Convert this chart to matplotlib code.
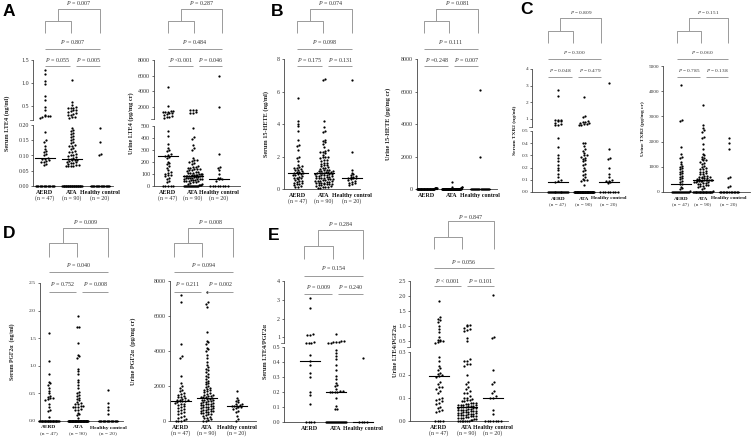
import numpy as np
import matplotlib
matplotlib.use("Agg")
import matplotlib.pyplot as plt

# ---------------- data ----------------
groups = ["AERD", "ATA", "Healthy control"]
n_labels = ["(n = 47)", "(n = 90)", "(n = 20)"]

# A: LTE4
LTE4_serum_AERD = [1.28, 1.2, 1.05, 0.97, 0.72, 0.63, 0.48, 0.42, 0.30, 0.29, 0.28, 0.28, 0.27, 0.24,
                   0.176, 0.15, 0.145, 0.13, 0.12, 0.115, 0.11, 0.105, 0.10, 0.092, 0.09,
                   0.088, 0.085, 0.082, 0.08, 0.078, 0.072, 0.068] + [0] * 15
LTE4_serum_ATA = [1.07, 0.58, 0.52, 0.48, 0.47, 0.46, 0.45, 0.42, 0.41, 0.40, 0.38, 0.35, 0.32, 0.31,
                  0.30, 0.27, 0.26, 0.24,
                  0.19, 0.185, 0.18, 0.175, 0.17, 0.165, 0.16, 0.155, 0.15, 0.145, 0.14, 0.135, 0.13,
                  0.13, 0.125, 0.12, 0.115, 0.11, 0.11, 0.105, 0.10, 0.10, 0.098, 0.095, 0.092, 0.09, 0.088,
                  0.086, 0.085, 0.084, 0.082, 0.08, 0.078, 0.076, 0.075, 0.072, 0.07, 0.068, 0.067,
                  0.066, 0.065, 0.064] + [0] * 30
LTE4_serum_HC = [0.19, 0.145, 0.105, 0.10] + [0] * 16

LTE4_urine_AERD = [4600, 2100, 1550, 1500, 1450, 1400, 1350, 1300, 1200, 1100, 1000, 900, 800, 700, 600,
                   460, 420, 350, 320, 300, 290, 270, 260, 250,
                   240, 230, 200, 190, 180, 170, 150, 130, 120, 110, 100, 95, 90, 80, 70, 60, 40, 30] + [0] * 5
LTE4_urine_ATA = [1700, 1650, 1600, 1450, 1300, 1200,
                  480, 410, 390, 340, 320, 300, 230, 220, 215, 210, 200, 190, 180, 170, 160, 155, 150, 150,
                  145, 140, 140, 135, 130, 125, 120, 115, 110, 110, 105, 100, 100, 98, 95, 92, 90, 88, 87,
                  86, 86,
                  84, 82, 80, 80, 78, 75, 72, 70, 70, 68, 65, 62, 60, 58, 55, 52, 50, 48, 45, 42, 40, 38,
                  35, 30, 25, 20, 15, 10, 8, 5, 3, 2] + [0] * 13
LTE4_urine_HC = [6000, 2000, 270, 160, 150, 130, 100, 70, 65, 60, 58, 40] + [0] * 8

# B: 15-HETE
HETE_serum_AERD = [5.6, 4.2, 4.0, 3.85, 3.6, 3.0, 2.7, 2.65, 2.4, 2.0, 1.9, 1.7, 1.45, 1.4, 1.35, 1.3,
                   1.3, 1.25, 1.2, 1.15, 1.1, 1.05, 1.02, 1.0,
                   0.98, 0.95, 0.9, 0.88, 0.85, 0.8, 0.75, 0.7, 0.7, 0.65, 0.6, 0.55, 0.5, 0.5, 0.45,
                   0.4, 0.35, 0.3, 0.3, 0.25, 0.2, 0.15, 0.1]
HETE_serum_ATA = [6.8, 6.7, 4.2, 3.8, 3.6, 3.5, 3.0, 2.95, 2.9, 2.8, 2.6, 2.4, 2.35, 2.3, 2.3, 2.2, 2.1,
                  2.0, 2.0, 1.95, 1.9, 1.8, 1.8, 1.7, 1.6, 1.6, 1.55, 1.5, 1.45, 1.4, 1.35, 1.3, 1.3, 1.25,
                  1.2, 1.2, 1.15, 1.1, 1.1, 1.08, 1.05, 1.03, 1.02, 1.01, 1.0,
                  0.98, 0.96, 0.95, 0.92, 0.9, 0.88, 0.86, 0.85, 0.82, 0.8, 0.78, 0.75, 0.72, 0.7, 0.7,
                  0.68, 0.65, 0.62, 0.6, 0.6, 0.58, 0.55, 0.52, 0.5, 0.5, 0.48, 0.45, 0.42, 0.4, 0.4,
                  0.38, 0.35, 0.32, 0.3, 0.3, 0.28, 0.25, 0.22, 0.2, 0.18, 0.15, 0.12, 0.1, 0.08, 0.05]
HETE_serum_HC = [6.7, 2.3, 1.15, 1.0, 0.9, 0.85, 0.8, 0.75, 0.72, 0.7, 0.68, 0.65, 0.6, 0.55, 0.5,
                 0.45, 0.4, 0.35, 0.3, 0.25]

HETE_urine_AERD = [70, 60, 50, 45, 40, 35, 30, 25, 20, 15, 10, 5] + [0] * 35
HETE_urine_ATA = [420, 150, 120, 100, 80, 60, 50, 40, 30, 20] + [0] * 80
HETE_urine_HC = [6100, 1950] + [0] * 18

# C: TXB2
TXB2_serum_AERD = [2.75, 2.35, 0.95, 0.92, 0.9, 0.88, 0.85, 0.75, 0.7, 0.65, 0.6,
                   0.44, 0.37, 0.3, 0.28, 0.25, 0.22, 0.2, 0.18, 0.15, 0.12, 0.1, 0.09, 0.085] + [0] * 23
TXB2_serum_ATA = [2.3, 1.15, 1.1, 0.85, 0.8, 0.78, 0.75, 0.72, 0.7, 0.68, 0.65, 0.6,
                  0.4, 0.4, 0.38, 0.35, 0.34, 0.32, 0.3, 0.3, 0.29, 0.28, 0.27, 0.26, 0.25, 0.23, 0.22,
                  0.2, 0.18, 0.17, 0.15, 0.14, 0.12, 0.11, 0.1, 0.1, 0.09, 0.06] + [0] * 52
TXB2_serum_HC = [3.15, 0.35, 0.28, 0.27, 0.2, 0.15, 0.12, 0.1, 0.09, 0.09, 0.08, 0.07] + [0] * 8

TXB2_urine_AERD = [4250, 2850, 2800, 1800, 1500, 1400, 1350, 1200, 1100, 1050, 1000, 950, 900, 850,
                   800, 750, 700, 650, 600, 550, 500, 450, 400, 320,
                   300, 200, 150, 100, 50] + [0] * 18
TXB2_urine_ATA = [3450, 2650, 2550, 2450, 2400, 2200, 2150, 1900, 1700, 1500,
                  1450, 1400, 1350, 1300, 1250, 1250, 1200, 1150, 1100, 1050,
                  1000, 950, 900, 900, 850, 800, 800, 750, 700, 700,
                  650, 650, 600, 600, 580, 560, 550, 540, 520, 500,
                  490, 480, 475, 470, 470,
                  460, 450, 440, 430, 420, 410, 400, 380, 360, 340, 320, 300, 280, 260, 240, 220, 200,
                  150, 100, 50] + [0] * 25
TXB2_urine_HC = [2150, 1950, 1700, 600, 550, 250, 180] + [0] * 13

# D: PGF2a
PGF_serum_AERD = [1.6, 1.08, 0.85, 0.7, 0.68, 0.65, 0.6, 0.55, 0.5, 0.45, 0.43, 0.42, 0.41, 0.4,
                  0.38, 0.3, 0.25, 0.2, 0.18, 0.08] + [0] * 27
PGF_serum_ATA = [1.9, 1.7, 1.7, 1.42, 1.2, 1.18, 1.15, 0.95, 0.9, 0.85,
                 0.75, 0.7, 0.65, 0.6, 0.52, 0.5, 0.48, 0.45, 0.42, 0.4,
                 0.38, 0.35, 0.33, 0.3, 0.3, 0.28, 0.27, 0.26, 0.25, 0.25,
                 0.22, 0.2, 0.2, 0.15, 0.12, 0.1, 0.05] + [0] * 53
PGF_serum_HC = [0.57, 0.33, 0.25, 0.2, 0.12] + [0] * 15

PGF_urine_AERD = [7200, 6800, 4400, 3700, 3600, 2600, 2200, 2000, 1900, 1800,
                  1700, 1600, 1550, 1500, 1450, 1400, 1350, 1300, 1250, 1200, 1200, 1180, 1160, 1150,
                  1120, 1100, 1050, 1000, 950, 900, 850, 800, 750, 700,
                  650, 600, 500, 450, 400, 300, 250, 200, 100, 50, 0, 0, 0]
PGF_urine_ATA = [7400, 6800, 6700, 6500, 5100, 4600, 4500, 4400, 4200, 4100,
                 4000, 3800, 3600, 3400, 3200, 3100, 3000, 2900, 2800, 2700,
                 2600, 2500, 2400, 2300, 2250, 2200, 2100, 2000, 1950, 1900,
                 1850, 1800, 1750, 1700, 1650, 1600, 1550, 1500, 1480, 1450,
                 1420, 1400, 1380, 1350, 1320,
                 1280, 1250, 1220, 1200, 1180, 1150, 1120, 1100, 1080, 1050,
                 1020, 1000, 980, 950, 920, 900, 880, 850, 820, 800,
                 780, 750, 720, 700, 680, 650, 620, 600, 580, 550,
                 520, 500, 480, 450, 420, 400, 350, 300, 250, 200,
                 150, 100, 50, 20, 0]
PGF_urine_HC = [1700, 1300, 1200, 1150, 1100, 1000, 950, 900, 880, 860, 840, 820, 800, 750, 700,
                600, 500, 300, 100, 0]

# E: LTE4/PGF2a
RATIO_serum_AERD = [3.1, 2.55, 1.2, 1.15, 1.1, 0.75, 0.72, 0.72, 0.72,
                    0.45, 0.41, 0.38, 0.33, 0.3, 0.2, 0.18, 0.12, 0, 0, 0, 0]
RATIO_serum_ATA = [1.2, 0.8, 0.78, 0.76, 0.75, 0.74, 0.72, 0.72, 0.48, 0.46, 0.44, 0.42, 0.38, 0.35,
                   0.31, 0.29, 0.26, 0.25, 0.24, 0.22, 0.21, 0.21, 0.2, 0.2, 0.2, 0.2, 0.16, 0.11, 0.09,
                   0.085] + [0] * 21
RATIO_serum_HC = [0.43, 0, 0, 0, 0]

RATIO_urine_AERD = [1.85, 1.3, 1.25, 1.2, 1.15, 1.0, 0.9, 0.8, 0.65, 0.55, 0.55, 0.5, 0.5, 0.48, 0.45,
                    0.28, 0.26, 0.24, 0.23, 0.22, 0.21, 0.205, 0.2, 0.195,
                    0.19, 0.17, 0.16, 0.15, 0.15, 0.14, 0.13, 0.12, 0.1, 0.095, 0.09, 0.085, 0.08, 0.075,
                    0.06, 0.055, 0.05, 0.045, 0.04, 0, 0, 0, 0]
RATIO_urine_ATA = [1.05, 1.02, 1.0, 0.95, 0.9, 0.88, 0.85, 0.6, 0.5,
                   0.27, 0.26, 0.26, 0.25, 0.25, 0.24, 0.2, 0.17, 0.16, 0.15, 0.14, 0.13, 0.12, 0.12,
                   0.11, 0.1, 0.1, 0.095, 0.09, 0.09, 0.085, 0.085, 0.08, 0.08, 0.08, 0.075, 0.075, 0.07,
                   0.07, 0.07, 0.068, 0.066, 0.065, 0.064, 0.062, 0.061,
                   0.059, 0.058, 0.056, 0.055, 0.054, 0.052, 0.05, 0.05, 0.048, 0.046, 0.045, 0.044,
                   0.042, 0.04, 0.04, 0.038, 0.036, 0.035, 0.034, 0.032, 0.03, 0.03, 0.028, 0.026, 0.025,
                   0.024, 0.022, 0.02, 0.02, 0.018, 0.016, 0.015, 0.014, 0.012, 0.01, 0.008, 0.006,
                   0.005] + [0] * 7
RATIO_urine_HC = [2.05, 0.65, 0.6, 0.22, 0.17, 0.16, 0.13, 0.12, 0.11, 0.1, 0.1, 0.05, 0.03] + [0] * 7

# P values: [group-wise, overall, AERD vs ATA, ATA vs HC]
P_A_serum = ["$P$ = 0.007", "$P$ = 0.807", "$P$ = 0.055", "$P$ = 0.005"]
P_A_urine = ["$P$ = 0.287", "$P$ = 0.484", "$P$ <0.001", "$P$ = 0.046"]
P_B_serum = ["$P$ = 0.074", "$P$ = 0.098", "$P$ = 0.175", "$P$ = 0.131"]
P_B_urine = ["$P$ = 0.081", "$P$ = 0.111", "$P$ =0.248", "$P$ = 0.007"]
P_C_serum = ["$P$ = 0.809", "$P$ = 0.300", "$P$ = 0.048", "$P$ = 0.479"]
P_C_urine = ["$P$ = 0.151", "$P$ = 0.060", "$P$ = 0.785", "$P$ = 0.138"]
P_D_serum = ["$P$ = 0.009", "$P$ = 0.040", "$P$ = 0.752", "$P$ = 0.008"]
P_D_urine = ["$P$ = 0.008", "$P$ = 0.094", "$P$ = 0.211", "$P$ = 0.002"]
P_E_serum = ["$P$ = 0.284", "$P$ = 0.154", "$P$ = 0.009", "$P$ = 0.240"]
P_E_urine = ["$P$ = 0.847", "$P$ = 0.056", "$P$ < 0.001", "$P$ = 0.101"]

# ---------------- style ----------------
plt.rcParams['font.family'] = ['Liberation Serif', 'DejaVu Serif']
plt.rcParams['mathtext.fontset'] = 'custom'
plt.rcParams['mathtext.it'] = 'Liberation Serif:italic'
plt.rcParams['mathtext.rm'] = 'Liberation Serif'

W, H = 753, 437
fig = plt.figure(figsize=(W / 100, H / 100), dpi=100)
ov = fig.add_axes([0, 0, 1, 1], zorder=10)
ov.set_xlim(0, W)
ov.set_ylim(H, 0)
ov.axis('off')
ov.patch.set_visible(False)

FS = 4.3
LINEC = '#9a9a9a'
TXTC = '#333333'


def make_funcs(vals, hs):
    vals = np.asarray(vals, float)
    hs = np.asarray(hs, float)
    s0 = (hs[1] - hs[0]) / (vals[1] - vals[0])
    s1 = (hs[-1] - hs[-2]) / (vals[-1] - vals[-2])

    def f(y):
        y = np.asarray(y, float)
        out = np.interp(y, vals, hs)
        out = np.where(y < vals[0], hs[0] + (y - vals[0]) * s0, out)
        out = np.where(y > vals[-1], hs[-1] + (y - vals[-1]) * s1, out)
        return out

    def finv(h):
        h = np.asarray(h, float)
        out = np.interp(h, hs, vals)
        out = np.where(h < hs[0], vals[0] + (h - hs[0]) / s0, out)
        out = np.where(h > hs[-1], vals[-1] + (h - hs[-1]) / s1, out)
        return out
    return f, finv


def swarm(h, cx, step=2.6, maxw=20.0, rowh=2.4):
    idx = np.argsort(h, kind='stable')
    xs = np.empty(len(h))
    i = 0
    while i < len(idx):
        j = i
        while j < len(idx) and h[idx[j]] - h[idx[i]] < rowh:
            j += 1
        n = j - i
        sp = min(step, maxw / n) if n > 1 else step
        offs = (np.arange(n) - (n - 1) / 2) * sp
        xs[idx[i:j]] = cx + offs
        i = j
    return xs


def panel(box, anchors, cats, data, ticks, ticklabels, ylabel, ylabx, show_n, brk=None, sc=1.0):
    x0, x1, top, bot = box
    ax = fig.add_axes([x0 / W, 1 - bot / H, (x1 - x0) / W, (bot - top) / H])
    vals = [a[0] for a in anchors]
    hs = [bot - a[1] for a in anchors]
    f, finv = make_funcs(vals, hs)
    ax.set_yscale('function', functions=(f, finv))
    ax.set_ylim(vals[0], vals[-1])
    ax.set_xlim(x0, x1)
    for cx, d in zip(cats, data):
        v = np.asarray(d, float)
        xs = swarm(f(v), cx)
        ax.scatter(xs, v, s=2.6, c='k', marker='o', linewidths=0, clip_on=False, zorder=3)
        med = np.median(v)
        ax.plot([cx - 10, cx + 10], [med, med], color='k', lw=0.8, clip_on=False, zorder=4)
    ax.set_yticks(ticks)
    ax.set_yticklabels(ticklabels)
    ax.set_xticks([])
    ax.tick_params(axis='y', length=1.8, width=0.5, pad=1, labelsize=FS * sc, colors=TXTC)
    for s in ['top', 'right']:
        ax.spines[s].set_visible(False)
    ax.spines['bottom'].set_linewidth(0.6)
    ax.spines['bottom'].set_color('#444444')
    ax.spines['left'].set_linewidth(0.6)
    ax.spines['left'].set_color('#444444')
    ax.patch.set_visible(False)
    if brk is not None:
        ax.spines['left'].set_visible(False)
        Hp = bot - top
        hl = float(f(brk[0])) / Hp
        hu = float(f(brk[1])) / Hp
        ax.plot([0, 0], [0, hl], transform=ax.transAxes, color='#444444', lw=0.6, clip_on=False)
        ax.plot([0, 0], [hu, 1], transform=ax.transAxes, color='#444444', lw=0.6, clip_on=False)
        ax.plot([-0.035, 0], [hu, hu], transform=ax.transAxes, color='#444444', lw=0.5, clip_on=False)
    # category labels
    for cx, g, nl in zip(cats, groups, n_labels):
        ov.text(cx, bot + 6.5, g, ha='center', va='center', fontsize=FS * sc, fontweight='bold',
                color='#111111')
        if show_n:
            ov.text(cx, bot + 11.8, nl, ha='center', va='center', fontsize=FS * sc, color=TXTC)
    ov.text(ylabx, (top + bot) / 2, ylabel, rotation=90, ha='center', va='center',
            fontsize=(FS + 0.2) * sc, fontweight='bold', color='#222222')
    return ax


def brackets(xsp, ys, texts, sc=1.0):
    xl, xm, xr = xsp
    yt, yb, yp, yl, yot, yol, ypt, ypl = ys
    xc = (xl + xm) / 2
    kw = dict(color=LINEC, lw=0.7, solid_capstyle='butt')
    fs = FS * sc
    ov.plot([xl, xl, xm, xm], [yl, yp, yp, yl], **kw)
    ov.plot([xc, xc, xr, xr], [yp, yb, yb, yl], **kw)
    ov.text((xc + xr) / 2, yt, texts[0], ha='center', va='center', fontsize=fs, color=TXTC)
    ov.plot([xl, xr], [yol, yol], **kw)
    ov.text((xl + xr) / 2, yot, texts[1], ha='center', va='center', fontsize=fs, color=TXTC)
    ov.plot([xl, xm - 1], [ypl, ypl], **kw)
    ov.text((xl + xm) / 2, ypt, texts[2], ha='center', va='center', fontsize=fs, color=TXTC)
    ov.plot([xm + 5.5, xr], [ypl, ypl], **kw)
    ov.text((xm + 5.5 + xr) / 2, ypt, texts[3], ha='center', va='center', fontsize=fs, color=TXTC)


# ---------------- panels ----------------
Y_AB = (3, 9, 21, 33, 42, 49, 60, 66)
Y_C = (13, 18, 31, 43, 52, 59, 71, 77)
Y_D = (222, 228, 243, 257, 265, 272, 284, 292)
Y_E1 = (224, 230, 246, 259, 268, 276, 287, 294)
Y_E2 = (217, 221, 237, 249, 262, 268, 281, 286)

# A
panel((33, 113, 60, 186), [(0, 186), (0.2, 125), (0.2000001, 120), (1.5, 60)], (45, 72, 100),
      [LTE4_serum_AERD, LTE4_serum_ATA, LTE4_serum_HC],
      [0, 0.05, 0.10, 0.15, 0.20, 0.5, 1.0, 1.5],
      ["0.00", "0.05", "0.10", "0.15", "0.20", "0.5", "1.0", "1.5"],
      "Serum LTE4 (ng/ml)", 7, True, brk=(0.2, 0.2000001))
brackets((45, 71, 100), Y_AB, P_A_serum)

panel((154, 240, 60, 186), [(0, 186), (500, 126), (500.0001, 119), (8000, 60)], (168, 193, 219),
      [LTE4_urine_AERD, LTE4_urine_ATA, LTE4_urine_HC],
      [0, 100, 200, 300, 400, 500, 2000, 4000, 6000, 8000],
      ["0", "100", "200", "300", "400", "500", "2000", "4000", "6000", "8000"],
      "Urine LTE4 (pg/mg cr)", 131, True, brk=(500, 500.0001))
brackets((168, 194, 222), Y_AB, P_A_urine)

# B
panel((284, 360, 59, 189), [(0, 189), (8, 59)], (298, 324, 352),
      [HETE_serum_AERD, HETE_serum_ATA, HETE_serum_HC],
      [0, 2, 4, 6, 8], ["0", "2", "4", "6", "8"],
      "Serum 15-HETE (ng/ml)", 266, True)
brackets((297, 323, 352), Y_AB, P_B_serum)

panel((417, 497, 59, 189), [(0, 189), (8000, 59)], (427, 452, 480),
      [HETE_urine_AERD, HETE_urine_ATA, HETE_urine_HC],
      [0, 2000, 4000, 6000, 8000], ["0", "2000", "4000", "6000", "8000"],
      "Urine 15-HETE (pg/mg cr)", 388, False)
brackets((424, 449, 478), Y_AB, P_B_urine)

# C (drawn a little smaller in the source figure)
SC_C = 0.88
panel((532, 618, 69, 192), [(0, 192), (0.5, 131), (0.5000001, 127), (4, 69)], (558, 584, 609),
      [TXB2_serum_AERD, TXB2_serum_ATA, TXB2_serum_HC],
      [0, 0.1, 0.2, 0.3, 0.4, 0.5, 1, 2, 3, 4],
      ["0.0", "0.1", "0.2", "0.3", "0.4", "0.5", "1", "2", "3", "4"],
      "Serum TXB2 (ng/ml)", 515, True, brk=(0.5, 0.5000001), sc=SC_C)
brackets((548, 573, 601), Y_C, P_C_serum, sc=SC_C)

panel((663, 750, 66, 192), [(0, 192), (5000, 66)], (681, 703, 729),
      [TXB2_urine_AERD, TXB2_urine_ATA, TXB2_urine_HC],
      [0, 1000, 2000, 3000, 4000, 5000], ["0", "1000", "2000", "3000", "4000", "5000"],
      "Urine TXB2 (pg/mg cr)", 643, True, sc=SC_C)
brackets((677, 701, 728), Y_C, P_C_urine, sc=SC_C)

# D
panel((40, 123, 283, 421), [(0, 421), (2.5, 283)], (49, 78, 108),
      [PGF_serum_AERD, PGF_serum_ATA, PGF_serum_HC],
      [0, 0.5, 1.0, 1.5, 2.0, 2.5], ["0.0", "0.5", "1.0", "1.5", "2.0", "2.5"],
      "Serum PGF2α  (ng/ml)", 12, True, sc=0.92)
brackets((49, 77, 108), Y_D, P_D_serum)

panel((170, 256, 281, 421), [(0, 421), (8000, 281)], (181, 207, 237),
      [PGF_urine_AERD, PGF_urine_ATA, PGF_urine_HC],
      [0, 2000, 4000, 6000, 8000], ["0", "2000", "4000", "6000", "8000"],
      "Urine PGF2α  (pg/mg cr)", 133, True)
brackets((174, 202, 233), Y_D, P_D_urine)

# E
panel((284, 370, 281, 422), [(0, 422), (0.5, 347), (0.7, 343), (4, 281)], (310, 336, 363),
      [RATIO_serum_AERD, RATIO_serum_ATA, RATIO_serum_HC],
      [0, 0.1, 0.2, 0.3, 0.4, 0.5, 1, 2, 3, 4],
      ["0.0", "0.1", "0.2", "0.3", "0.4", "0.5", "1", "2", "3", "4"],
      "Serum LTE4/PGF2α", 266, False, brk=(0.5, 0.7))
brackets((304, 333, 363), Y_E1, P_E_serum)

panel((410, 508, 281, 421), [(0, 421), (0.3, 352), (0.3000001, 347), (2.5, 281)], (439, 467, 493),
      [RATIO_urine_AERD, RATIO_urine_ATA, RATIO_urine_HC],
      [0, 0.1, 0.2, 0.3, 0.5, 1.0, 1.5, 2.0, 2.5],
      ["0.0", "0.1", "0.2", "0.3", "0.5", "1.0", "1.5", "2.0", "2.5"],
      "Urine LTE4/PGF2α", 396, True, brk=(0.3, 0.3000001))
brackets((434, 462, 494), Y_E2, P_E_urine)

# panel letters
for lab, (x, y) in zip(["A", "B", "C", "D", "E"], [(9, 12), (277, 11), (527, 9), (9, 234), (274, 236)]):
    ov.text(x, y, lab, ha='center', va='center', fontsize=12.5, fontweight='bold',
            family=['Liberation Sans', 'DejaVu Sans'], color='black')

fig.savefig("out.png", dpi=100)
